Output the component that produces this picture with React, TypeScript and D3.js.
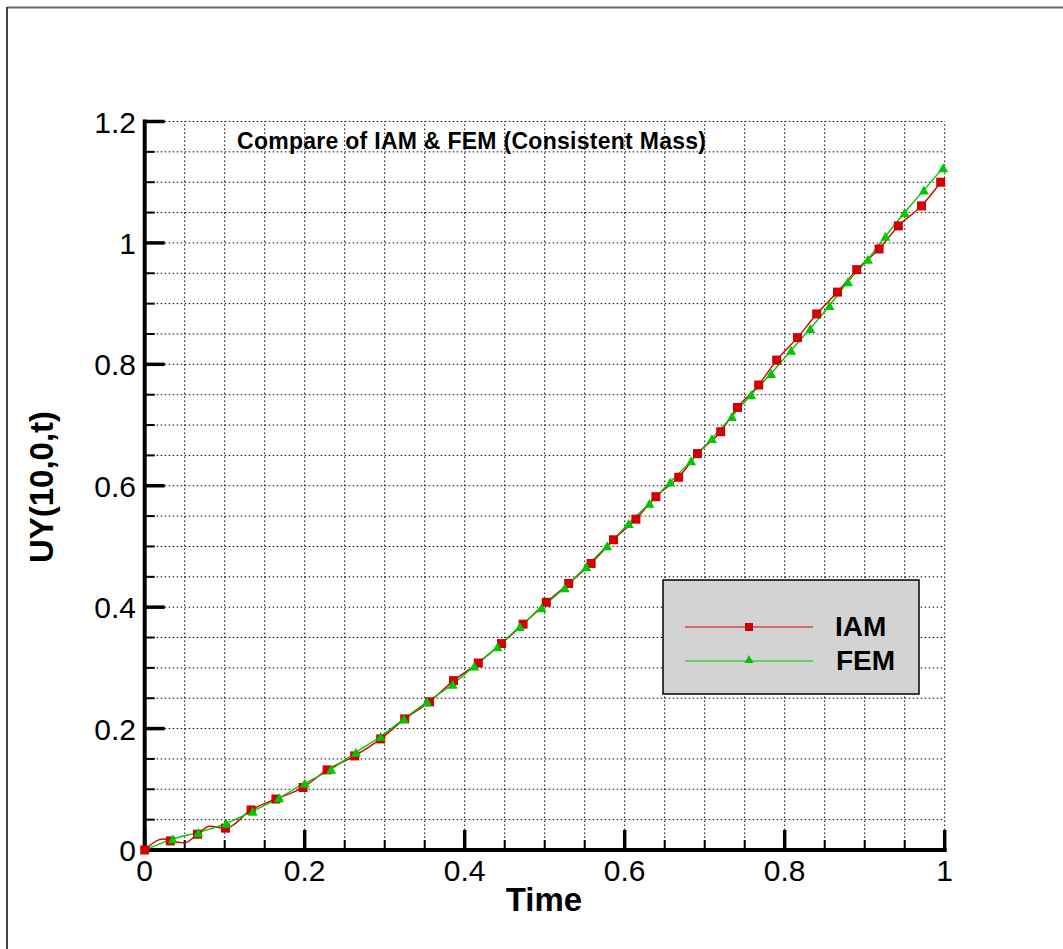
import React from "react";
import * as d3 from "d3";

// IAM (red squares) – samples read at marker positions
const iamT = [0, 0.032, 0.066, 0.101, 0.133, 0.164, 0.198, 0.228, 0.2625, 0.295, 0.325, 0.356, 0.386, 0.417, 0.446, 0.473, 0.502, 0.53, 0.558, 0.586, 0.614, 0.639, 0.6675, 0.691, 0.72, 0.741, 0.7675, 0.79, 0.816, 0.84, 0.866, 0.89, 0.918, 0.942, 0.971, 0.995];
const iamV = [0, 0.015, 0.026, 0.036, 0.066, 0.084, 0.103, 0.132, 0.155, 0.183, 0.216, 0.244, 0.279, 0.308, 0.34, 0.372, 0.408, 0.439, 0.472, 0.511, 0.545, 0.582, 0.614, 0.653, 0.689, 0.729, 0.766, 0.807, 0.844, 0.883, 0.919, 0.956, 0.99, 1.028, 1.061, 1.1];
// extra IAM line points (small wiggles between markers near the start)
const iamWiggleT = [0.023, 0.05, 0.081];
const iamWiggleV = [0.018, 0.012, 0.039];

// FEM (green triangles)
const femT = [0, 0.035, 0.067, 0.102, 0.135, 0.168, 0.2, 0.233, 0.264, 0.295, 0.324, 0.353, 0.385, 0.412, 0.441, 0.469, 0.496, 0.525, 0.552, 0.578, 0.605, 0.631, 0.657, 0.683, 0.709, 0.734, 0.758, 0.783, 0.808, 0.832, 0.856, 0.879, 0.904, 0.926, 0.95, 0.974, 0.998];
const femV = [0, 0.018, 0.029, 0.044, 0.064, 0.086, 0.11, 0.133, 0.161, 0.187, 0.216, 0.244, 0.273, 0.303, 0.335, 0.368, 0.399, 0.432, 0.467, 0.501, 0.538, 0.571, 0.606, 0.641, 0.678, 0.714, 0.75, 0.785, 0.823, 0.859, 0.897, 0.936, 0.973, 1.011, 1.05, 1.087, 1.124];

const xTickLabels = ["0", "0.2", "0.4", "0.6", "0.8", "1"];
const yTickLabels = ["0", "0.2", "0.4", "0.6", "0.8", "1", "1.2"];
const xTickValues = [0, 0.2, 0.4, 0.6, 0.8, 1];
const yTickValues = [0, 0.2, 0.4, 0.6, 0.8, 1, 1.2];

const seriesNames = ["IAM", "FEM"];
const titleText = "Compare of IAM & FEM (Consistent Mass)";

const RED = "#d40000";
const GREEN = "#00c800";
const FONT = "'Liberation Sans', Arial, Helvetica, sans-serif";

export default function App() {
  const W = 1063, H = 949;
  const x = d3.scaleLinear().domain([0, 1]).range([144.7, 944.7]);
  const y = d3.scaleLinear().domain([0, 1.2]).range([850, 121.5]);

  const gridX = d3.range(0, 21).map((i) => i * 0.05);
  const gridY = d3.range(0, 25).map((i) => i * 0.05);

  const iamPts: [number, number][] = iamT.map((t, i) => [t, iamV[i]]);
  const iamLinePts: [number, number][] = iamPts
    .concat(iamWiggleT.map((t, i) => [t, iamWiggleV[i]] as [number, number]))
    .sort((a, b) => a[0] - b[0]);
  const femPts: [number, number][] = femT.map((t, i) => [t, femV[i]]);

  const line = d3
    .line<[number, number]>()
    .x((d) => x(d[0]))
    .y((d) => y(d[1]))
    .curve(d3.curveMonotoneX);

  const sq = 9;
  const triPath = (cx: number, cy: number, w = 10, h = 9) =>
    `M${cx - w / 2},${cy + h / 2}L${cx + w / 2},${cy + h / 2}L${cx},${cy - h / 2}Z`;

  const isMajor = (v: number) => Math.abs(v / 0.2 - Math.round(v / 0.2)) < 1e-6;

  // legend geometry
  const lg = { x: 663, y: 580, w: 256, h: 114 };
  const legRows = [627, 661];

  return (
    <svg
      width={W}
      height={H}
      style={{ position: "absolute", left: 0, top: 0, background: "#fff" }}
      fontFamily={FONT}
    >
      <rect x={0} y={0} width={W} height={H} fill="#fff" />
      {/* outer frame */}
      <line x1={7} y1={7.5} x2={W} y2={7.5} stroke="#666" strokeWidth={2} />
      <line x1={7} y1={7} x2={7} y2={H} stroke="#444" strokeWidth={2} />

      {/* grid */}
      <g stroke="#000" strokeWidth={1} strokeDasharray="1.5,2.5">
        {gridX.map((t, i) => (
          <line key={"gx" + i} x1={x(t)} x2={x(t)} y1={y(0)} y2={y(1.2)} />
        ))}
        {gridY.map((v, i) => (
          <line key={"gy" + i} x1={x(0)} x2={x(1)} y1={y(v)} y2={y(v)} />
        ))}
      </g>

      {/* axes */}
      <line x1={x(0)} x2={x(0)} y1={y(0) + 2} y2={y(1.2) - 2} stroke="#000" strokeWidth={4} />
      <line x1={x(0) - 2} x2={x(1) + 2} y1={y(0)} y2={y(0)} stroke="#000" strokeWidth={4} />
      {gridX.map((t, i) => {
        const maj = isMajor(t);
        return (
          <line
            key={"tx" + i}
            x1={x(t)}
            x2={x(t)}
            y1={y(0)}
            y2={y(0) - (maj ? 20 : 10)}
            stroke="#000"
            strokeWidth={maj ? 3.5 : 2}
          />
        );
      })}
      {gridY.map((v, i) => {
        const maj = isMajor(v);
        return (
          <line
            key={"ty" + i}
            x1={x(0)}
            x2={x(0) + (maj ? 20 : 10)}
            y1={y(v)}
            y2={y(v)}
            stroke="#000"
            strokeWidth={maj ? 3.5 : 2}
          />
        );
      })}

      {/* tick labels */}
      {xTickValues.map((t, i) => (
        <text key={"xl" + i} x={x(t)} y={881} fontSize={30} textAnchor="middle" fill="#000">
          {xTickLabels[i]}
        </text>
      ))}
      {yTickValues.map((v, i) => (
        <text key={"yl" + i} x={136} y={y(v) + 11} fontSize={30} textAnchor="end" fill="#000">
          {yTickLabels[i]}
        </text>
      ))}

      {/* axis titles */}
      <text x={544} y={911} fontSize={33} fontWeight="bold" textAnchor="middle" fill="#000">
        Time
      </text>
      <text
        transform={`translate(53,487) rotate(-90)`}
        fontSize={33}
        fontWeight="bold"
        textAnchor="middle"
        fill="#000"
      >
        UY(10,0,t)
      </text>

      {/* title */}
      <text x={237} y={149} fontSize={23} fontWeight="bold" fill="#000" textLength={469} lengthAdjust="spacing">
        {titleText}
      </text>

      {/* series */}
      <path d={line(iamLinePts) || ""} fill="none" stroke={RED} strokeWidth={1.4} />
      <path d={line(femPts) || ""} fill="none" stroke={GREEN} strokeWidth={1.4} />
      {iamPts.map((d, i) => (
        <rect key={"rs" + i} x={x(d[0]) - sq / 2} y={y(d[1]) - sq / 2} width={sq} height={sq} fill={RED} />
      ))}
      {femPts.slice(1).map((d, i) => (
        <path key={"gt" + i} d={triPath(x(d[0]), y(d[1]))} fill={GREEN} />
      ))}

      {/* legend */}
      <rect x={lg.x} y={lg.y} width={lg.w} height={lg.h} fill="#d3d3d3" stroke="#000" strokeWidth={1.5} />
      <line x1={685} x2={813} y1={legRows[0]} y2={legRows[0]} stroke={RED} strokeWidth={1.2} />
      <rect x={749 - 4} y={legRows[0] - 4} width={8} height={8} fill={RED} />
      <line x1={685} x2={813} y1={legRows[1]} y2={legRows[1]} stroke={GREEN} strokeWidth={1.2} />
      <path d={triPath(749, legRows[1] - 2, 9, 8)} fill={GREEN} />
      <text x={835} y={636} fontSize={28} fontWeight="bold" fill="#000">
        {seriesNames[0]}
      </text>
      <text x={836} y={670} fontSize={28} fontWeight="bold" fill="#000">
        {seriesNames[1]}
      </text>
    </svg>
  );
}
